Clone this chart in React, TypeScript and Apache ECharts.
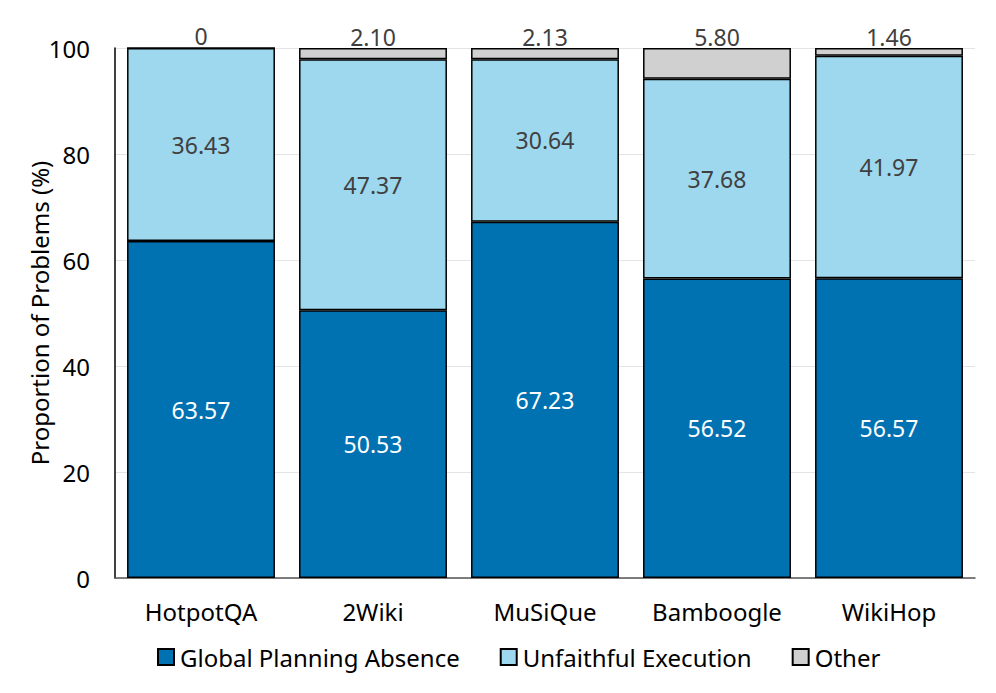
import React, { useEffect, useRef } from "react";
import * as echarts from "echarts";

const categories = ["HotpotQA", "2Wiki", "MuSiQue", "Bamboogle", "WikiHop"];
const globalPlanning = [63.57, 50.53, 67.23, 56.52, 56.57];
const unfaithful = [36.43, 47.37, 30.64, 37.68, 41.97];
const other = [0, 2.1, 2.13, 5.8, 1.46];
const yTicks = [0, 20, 40, 60, 80, 100];

const FONT = "'Noto Sans', 'Open Sans', sans-serif";
const fmt = (v: number) => (v === 0 ? "0" : v.toFixed(2));

export default function App() {
  const ref = useRef<HTMLDivElement>(null);
  useEffect(() => {
    document.body.style.margin = "0";
    if (!ref.current) return;
    const chart = echarts.init(ref.current, null, { renderer: "svg" });
    const border = { borderColor: "#000", borderWidth: 1.5 };
    chart.setOption({
      animation: false,
      textStyle: { fontFamily: FONT },
      grid: { left: 115, right: 21, top: 48, bottom: 115, containLabel: false },
      legend: {
        top: 640,
        left: 152,
        itemWidth: 16,
        itemHeight: 16,
        itemGap: 40,
        icon: "rect",
        textStyle: { fontFamily: FONT, fontSize: 24, color: "#000", padding: [0, 0, 0, 1] },
        data: ["Global Planning Absence", "Unfaithful Execution", "Other"],
      },
      xAxis: {
        type: "category",
        data: categories,
        axisLine: { lineStyle: { color: "#555", width: 1.5 } },
        axisTick: { show: false },
        axisLabel: { fontFamily: FONT, fontSize: 24, color: "#000", margin: 21 },
      },
      yAxis: {
        type: "value",
        min: yTicks[0],
        max: yTicks[yTicks.length - 1],
        interval: 20,
        name: "Proportion of Problems (%)",
        nameLocation: "middle",
        nameGap: 64,
        nameMoveOverlap: false,
        nameTextStyle: { fontFamily: FONT, fontSize: 24, color: "#000" },
        axisLine: { show: true, lineStyle: { color: "#000", width: 1.5 } },
        axisTick: { show: false },
        axisLabel: { fontFamily: FONT, fontSize: 24, color: "#000", margin: 25 },
        splitLine: { lineStyle: { color: "#e4e4e4", width: 1 } },
      },
      series: [
        {
          name: "Global Planning Absence",
          type: "bar",
          stack: "total",
          barCategoryGap: "14%",
          data: globalPlanning,
          itemStyle: { color: "#0072b2", ...border },
          label: {
            show: true,
            position: "inside",
            color: "#fff",
            fontFamily: FONT,
            fontSize: 23,
            formatter: (p: any) => fmt(p.value),
          },
        },
        {
          name: "Unfaithful Execution",
          type: "bar",
          stack: "total",
          data: unfaithful,
          itemStyle: { color: "#9dd8ee", ...border },
          label: {
            show: true,
            position: "inside",
            color: "#404040",
            fontFamily: FONT,
            fontSize: 23,
            formatter: (p: any) => fmt(p.value),
          },
        },
        {
          name: "Other",
          type: "bar",
          stack: "total",
          data: other,
          itemStyle: { color: "#d0d0d0", ...border },
          label: {
            show: true,
            position: "top",
            distance: 0,
            color: "#404040",
            fontFamily: FONT,
            fontSize: 23,
            formatter: (p: any) => fmt(p.value),
          },
        },
      ],
    });
    return () => chart.dispose();
  }, []);
  return <div ref={ref} style={{ width: 996, height: 693 }} />;
}
